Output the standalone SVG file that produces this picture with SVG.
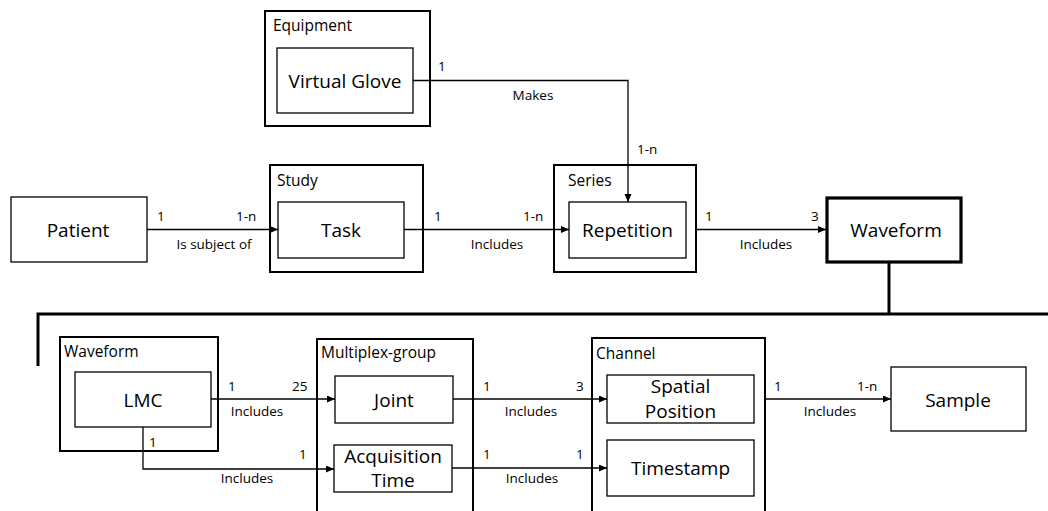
<svg xmlns="http://www.w3.org/2000/svg" width="1048" height="511" viewBox="0 0 1048 511">
  <style>
    text { font-family: "Open Sans", "Noto Sans", "DejaVu Sans", sans-serif; fill: #000; }
    .main { font-size: 19px; text-anchor: middle; }
    .head { font-size: 15.5px; }
    .lbl { font-size: 13.5px; }
    .mid { text-anchor: middle; }
    .outer { fill: #fff; stroke: #000; stroke-width: 2; }
    .inner { fill: #fff; stroke: #000; stroke-width: 1.3; }
    .plain { fill: #fff; stroke: #000; stroke-width: 1.3; }
    .heavy { fill: #fff; stroke: #000; stroke-width: 3.2; }
    .link { fill: none; stroke: #000; stroke-width: 1.3; }
    .bar { fill: none; stroke: #000; stroke-width: 3; }
  </style>
  <defs>
    <marker id="arrow" markerUnits="userSpaceOnUse" markerWidth="9" markerHeight="8" refX="8" refY="3.5" orient="auto">
      <path d="M0,0 L8,3.5 L0,7 z" fill="#000"/>
    </marker>
  </defs>

  <rect width="1048" height="511" fill="#fff"/>

  <!-- top row -->
  <g id="equipment">
    <rect class="outer" x="265" y="11" width="165" height="115"/>
    <text class="head" x="273" y="31">Equipment</text>
    <rect class="inner" x="277" y="48" width="136" height="65"/>
    <text class="main" x="345" y="88">Virtual Glove</text>
  </g>

  <g id="patient">
    <rect class="plain" x="11" y="197" width="136" height="65"/>
    <text class="main" x="78" y="237">Patient</text>
  </g>

  <g id="study">
    <rect class="outer" x="270" y="165" width="153" height="107"/>
    <text class="head" x="277" y="186">Study</text>
    <rect class="inner" x="278" y="202" width="126" height="56"/>
    <text class="main" x="341" y="237">Task</text>
  </g>

  <g id="series">
    <rect class="outer" x="554" y="165" width="142" height="107"/>
    <text class="head" x="568" y="186">Series</text>
    <rect class="inner" x="569" y="202" width="117" height="56"/>
    <text class="main" x="627.5" y="237">Repetition</text>
  </g>

  <g id="waveform-top">
    <rect class="heavy" x="827" y="198" width="134" height="64"/>
    <text class="main" x="896" y="237">Waveform</text>
  </g>

  <!-- bottom row -->
  <g id="waveform">
    <rect class="outer" x="60" y="337" width="158" height="114"/>
    <text class="head" x="64" y="357">Waveform</text>
    <rect class="inner" x="75" y="372" width="136" height="55"/>
    <text class="main" x="143" y="407">LMC</text>
  </g>

  <g id="multiplex-group">
    <path class="outer" d="M317,515 V339 H473 V515"/>
    <text class="head" x="321" y="358">Multiplex-group</text>
    <g id="joint">
      <rect class="inner" x="335" y="376" width="118" height="47"/>
      <text class="main" x="394" y="407">Joint</text>
    </g>
    <g id="acquisition-time">
      <rect class="inner" x="334" y="445" width="118" height="47"/>
      <text class="main" x="393" y="463">Acquisition</text>
      <text class="main" x="393" y="487">Time</text>
    </g>
  </g>

  <g id="channel">
    <path class="outer" d="M592,515 V338 H765 V515"/>
    <text class="head" x="596" y="359">Channel</text>
    <g id="spatial-position">
      <rect class="inner" x="607" y="375" width="147" height="48"/>
      <text class="main" x="680.5" y="393">Spatial</text>
      <text class="main" x="680.5" y="418">Position</text>
    </g>
    <g id="timestamp">
      <rect class="inner" x="607" y="440" width="147" height="56"/>
      <text class="main" x="680.5" y="475">Timestamp</text>
    </g>
  </g>

  <g id="sample">
    <rect class="plain" x="891" y="367" width="135" height="64"/>
    <text class="main" x="958" y="407">Sample</text>
  </g>

  <!-- connectors -->
  <g id="connectors">
    <path class="link" d="M413,80.5 H628 V202" marker-end="url(#arrow)"/>
    <path class="link" d="M147,229.5 H278" marker-end="url(#arrow)"/>
    <path class="link" d="M404,229.5 H569" marker-end="url(#arrow)"/>
    <path class="link" d="M696,229.5 H826" marker-end="url(#arrow)"/>

    <path class="bar" d="M889,262 V314"/>
    <path class="bar" d="M38,366 V314 H1048"/>

    <path class="link" d="M211,399 H335" marker-end="url(#arrow)"/>
    <path class="link" d="M143,427 V469 H334" marker-end="url(#arrow)"/>
    <path class="link" d="M453,399 H607" marker-end="url(#arrow)"/>
    <path class="link" d="M452,468 H607" marker-end="url(#arrow)"/>
    <path class="link" d="M765,399 H891" marker-end="url(#arrow)"/>

    <!-- cardinalities and relation names -->
    <text class="lbl" x="438" y="71">1</text>
    <text class="lbl mid" x="533" y="100">Makes</text>
    <text class="lbl" x="637" y="154">1-n</text>

    <text class="lbl" x="157" y="221">1</text>
    <text class="lbl" x="236" y="221">1-n</text>
    <text class="lbl mid" x="214" y="249">Is subject of</text>

    <text class="lbl" x="434" y="221">1</text>
    <text class="lbl" x="523" y="221">1-n</text>
    <text class="lbl mid" x="497" y="249">Includes</text>

    <text class="lbl" x="705" y="221">1</text>
    <text class="lbl" x="811" y="221">3</text>
    <text class="lbl mid" x="766" y="249">Includes</text>

    <text class="lbl" x="228" y="391">1</text>
    <text class="lbl" x="292" y="391">25</text>
    <text class="lbl mid" x="257" y="416">Includes</text>

    <text class="lbl" x="149" y="447">1</text>
    <text class="lbl" x="299" y="459">1</text>
    <text class="lbl mid" x="247" y="483">Includes</text>

    <text class="lbl" x="483" y="391">1</text>
    <text class="lbl" x="576" y="391">3</text>
    <text class="lbl mid" x="531" y="416">Includes</text>

    <text class="lbl" x="483" y="459">1</text>
    <text class="lbl" x="576" y="459">1</text>
    <text class="lbl mid" x="532" y="483">Includes</text>

    <text class="lbl" x="774" y="391">1</text>
    <text class="lbl" x="857" y="391">1-n</text>
    <text class="lbl mid" x="830" y="416">Includes</text>
  </g>
</svg>
